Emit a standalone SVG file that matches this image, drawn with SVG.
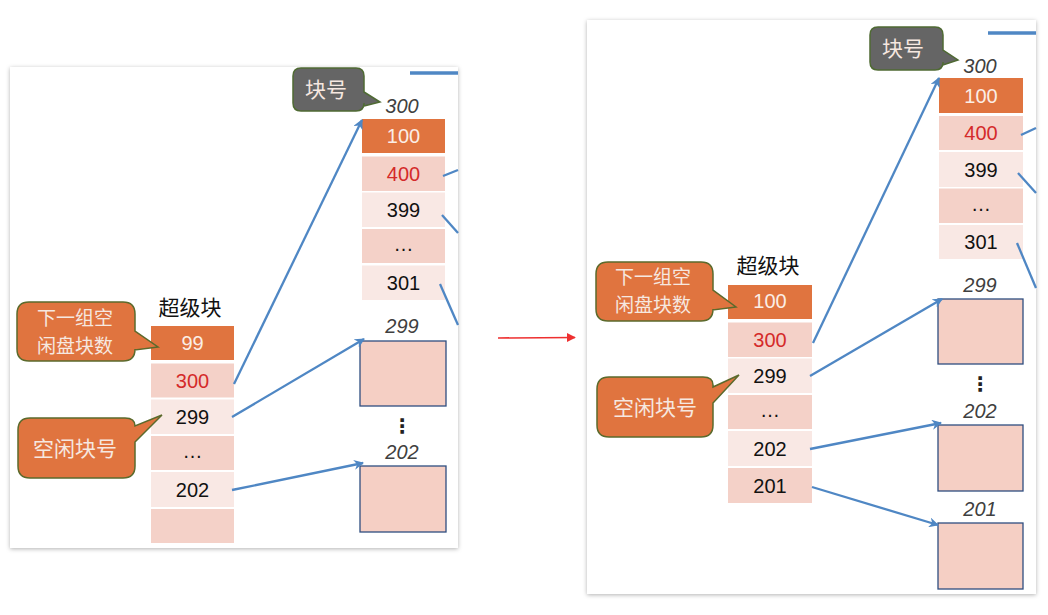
<svg xmlns="http://www.w3.org/2000/svg" width="1048" height="615" viewBox="0 0 1048 615">
<style>
.num{font-family:"Liberation Sans","Noto Sans",sans-serif;font-size:20px;text-anchor:middle;fill:#111}
.w{fill:#fbeee6}
.red{fill:#d42a2a}
.lab{font-family:"Liberation Sans","Noto Sans",sans-serif;font-size:20px;font-style:italic;text-anchor:middle;fill:#404040}
.cn{font-family:"Noto Sans CJK SC","Noto Sans",sans-serif;font-size:21px;text-anchor:middle;fill:#111}
.cw{font-family:"Noto Sans CJK SC","Noto Sans",sans-serif;font-size:21px;text-anchor:middle;fill:#f6e8e0}
.c2{font-size:19px}
.or{fill:#e0743f}
.pk{fill:#f4d1c8}
.lt{fill:#f9e8e4}
.box{fill:#f5cfc4;stroke:#2f4e80;stroke-width:1.3}
.co{fill:#e0743f;stroke:#5b6a2c;stroke-width:1.5}
.cg{fill:#656565;stroke:#4f6a33;stroke-width:1.5}
.ar{fill:none;stroke:#4f87c4;stroke-width:2.3}
.dots{font-family:"DejaVu Sans",sans-serif;font-size:20px;font-weight:bold;text-anchor:middle;fill:#222}
</style>
<defs>
<filter id="sh" x="-5%" y="-5%" width="110%" height="110%">
<feDropShadow dx="0" dy="1" stdDeviation="2" flood-color="#000" flood-opacity="0.3"/>
</filter>
<marker id="ah" viewBox="0 0 10 10" refX="9" refY="5" markerWidth="10" markerHeight="10" orient="auto" markerUnits="userSpaceOnUse">
<path d="M0,0 L10,5 L0,10 L3,5 Z" fill="#4f87c4"/>
</marker>
<marker id="ahr" viewBox="0 0 10 10" refX="9" refY="5" markerWidth="9" markerHeight="9" orient="auto" markerUnits="userSpaceOnUse">
<path d="M0,0 L10,5 L0,10 Z" fill="#ee3030"/>
</marker>
</defs>
<rect width="1048" height="615" fill="#ffffff"/>

<!-- Left panel -->
<g id="left-panel">
<rect x="10" y="67" width="448" height="481" fill="#ffffff" filter="url(#sh)"/>
<line x1="410" y1="73" x2="458" y2="73" stroke="#4f87c4" stroke-width="3.5"/>
</g>

<g id="L-block300">
<text class="lab" x="402" y="113">300</text>
<rect class="or" x="362" y="119" width="83" height="34"/>
<text class="num w" x="403.5" y="143">100</text>
<rect class="pk" x="362" y="156.5" width="83" height="34.5"/>
<text class="num red" x="403.5" y="180.5">400</text>
<rect class="lt" x="362" y="192.5" width="83" height="34.5"/>
<text class="num" x="403.5" y="217">399</text>
<rect class="pk" x="362" y="229" width="83" height="34"/>
<text class="num" x="403.5" y="251">…</text>
<rect class="lt" x="362" y="265.5" width="83" height="34.5"/>
<text class="num" x="403.5" y="290">301</text>
</g>

<g id="L-callout-blockno">
<path class="cg" d="M301,68 H356 Q364,68 364,76 V92 L380,102 L364,106 V103 Q364,111 356,111 H301 Q293,111 293,103 V76 Q293,68 301,68 Z"/>
<text class="cw" x="326" y="97">块号</text>
</g>

<g id="L-superblock">
<text class="cn" x="190" y="315">超级块</text>
<rect class="or" x="151" y="326" width="83" height="34"/>
<text class="num w" x="192.5" y="350">99</text>
<rect class="pk" x="151" y="363.5" width="83" height="34"/>
<text class="num red" x="192.5" y="388">300</text>
<rect class="lt" x="151" y="399.5" width="83" height="34.5"/>
<text class="num" x="192.5" y="424">299</text>
<rect class="pk" x="151" y="436" width="83" height="34"/>
<text class="num" x="192.5" y="458">…</text>
<rect class="lt" x="151" y="472" width="83" height="35"/>
<text class="num" x="192.5" y="497">202</text>
<rect class="pk" x="151" y="509" width="83" height="34"/>
</g>

<g id="L-callout-count">
<path class="co" d="M29,302 H123 Q135,302 135,314 V331 L158,347 L135,350 V349 Q135,361 123,361 H29 Q17,361 17,349 V314 Q17,302 29,302 Z"/>
<text class="cw c2" x="75" y="325">下一组空</text>
<text class="cw c2" x="75" y="353">闲盘块数</text>
</g>

<g id="L-callout-free">
<path class="co" d="M30,418 H125 Q135,418 135,426 L162,415 L135,442 V466 Q135,478 123,478 H30 Q18,478 18,466 V430 Q18,418 30,418 Z"/>
<text class="cw" x="75" y="456">空闲块号</text>
</g>

<g id="L-block299">
<text class="lab" x="402" y="333">299</text>
<rect class="box" x="360" y="341" width="86" height="65"/>
</g>
<text class="dots" x="402" y="433">⋮</text>
<g id="L-block202">
<text class="lab" x="402" y="459">202</text>
<rect class="box" x="360" y="466" width="86" height="66"/>
</g>

<!-- Right panel -->
<g id="right-panel">
<rect x="587" y="20" width="449" height="574" fill="#ffffff" filter="url(#sh)"/>
<line x1="988" y1="33" x2="1036" y2="33" stroke="#4f87c4" stroke-width="3.5"/>
</g>

<g id="R-block300">
<text class="lab" x="980" y="73">300</text>
<rect class="or" x="939" y="78" width="84" height="35"/>
<text class="num w" x="981" y="102.5">100</text>
<rect class="pk" x="939" y="116" width="84" height="34"/>
<text class="num red" x="981" y="140">400</text>
<rect class="lt" x="939" y="152" width="84" height="35"/>
<text class="num" x="981" y="177">399</text>
<rect class="pk" x="939" y="188.5" width="84" height="34.5"/>
<text class="num" x="981" y="211">…</text>
<rect class="lt" x="939" y="225" width="84" height="34"/>
<text class="num" x="981" y="249">301</text>
</g>

<g id="R-callout-blockno">
<path class="cg" d="M878,27 H935 Q943,27 943,35 V50 L958,60 L943,65 V62 Q943,70 935,70 H878 Q870,70 870,62 V35 Q870,27 878,27 Z"/>
<text class="cw" x="903" y="56">块号</text>
</g>

<g id="R-superblock">
<text class="cn" x="768" y="273">超级块</text>
<rect class="or" x="728" y="285" width="84" height="34"/>
<text class="num w" x="770" y="308">100</text>
<rect class="pk" x="728" y="322.5" width="84" height="34.5"/>
<text class="num red" x="770" y="347">300</text>
<rect class="lt" x="728" y="358.5" width="84" height="34.5"/>
<text class="num" x="770" y="383">299</text>
<rect class="pk" x="728" y="395" width="84" height="34"/>
<text class="num" x="770" y="417">…</text>
<rect class="lt" x="728" y="431" width="84" height="35"/>
<text class="num" x="770" y="456">202</text>
<rect class="pk" x="728" y="468" width="84" height="35"/>
<text class="num" x="770" y="493">201</text>
</g>

<g id="R-callout-count">
<path class="co" d="M608,262 H701 Q713,262 713,274 V290 L736,307 L713,310 V309 Q713,321 701,321 H608 Q596,321 596,309 V274 Q596,262 608,262 Z"/>
<text class="cw c2" x="653" y="284">下一组空</text>
<text class="cw c2" x="653" y="312">闲盘块数</text>
</g>

<g id="R-callout-free">
<path class="co" d="M609,377 H703 Q713,377 713,385 V387 L739,375 L713,403 V425 Q713,437 701,437 H609 Q597,437 597,425 V389 Q597,377 609,377 Z"/>
<text class="cw" x="655" y="415">空闲块号</text>
</g>

<g id="R-block299">
<text class="lab" x="980" y="292">299</text>
<rect class="box" x="938" y="299" width="85" height="65"/>
</g>
<text class="dots" x="980" y="391">⋮</text>
<g id="R-block202">
<text class="lab" x="980" y="418">202</text>
<rect class="box" x="938" y="425" width="85" height="66"/>
</g>
<g id="R-block201">
<text class="lab" x="980" y="516">201</text>
<rect class="box" x="938" y="523" width="85" height="66"/>
</g>

<g id="connectors">
<line class="ar" x1="234" y1="384" x2="362" y2="120" marker-end="url(#ah)"/>
<line class="ar" x1="232" y1="417" x2="364" y2="339" marker-end="url(#ah)"/>
<line class="ar" x1="232" y1="490" x2="363" y2="463" marker-end="url(#ah)"/>
<line class="ar" x1="443" y1="176" x2="458" y2="170"/>
<line class="ar" x1="442" y1="215" x2="458" y2="233"/>
<line class="ar" x1="440" y1="284" x2="458" y2="325"/>
<line class="ar" x1="813" y1="343" x2="939" y2="78" marker-end="url(#ah)"/>
<line class="ar" x1="810" y1="376" x2="942" y2="299" marker-end="url(#ah)"/>
<line class="ar" x1="810" y1="449" x2="941" y2="423" marker-end="url(#ah)"/>
<line class="ar" x1="812" y1="487" x2="938" y2="525" marker-end="url(#ah)"/>
<line class="ar" x1="1021" y1="135" x2="1036" y2="128"/>
<line class="ar" x1="1018" y1="173" x2="1036" y2="193"/>
<line class="ar" x1="1017" y1="243" x2="1036" y2="288"/>
<line x1="498" y1="338" x2="575" y2="337.5" stroke="#ee3030" stroke-width="1.6" marker-end="url(#ahr)"/>
</g>
</svg>
